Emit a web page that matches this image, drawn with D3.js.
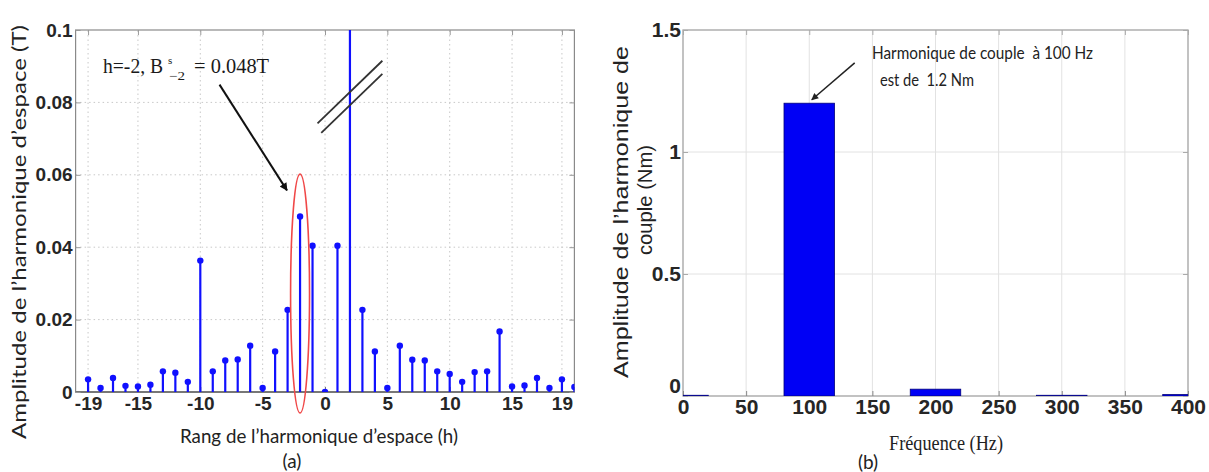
<!DOCTYPE html>
<html><head><meta charset="utf-8">
<script src="https://cdn.jsdelivr.net/npm/d3@7"></script>
<style>body{margin:0;background:#fff}svg{display:block}</style>
</head><body><svg id="c" width="1209" height="472"></svg>
<script>
// ---- Data: panel (a) space harmonics ----
const harmonicOrders = [-19,-18,-17,-16,-15,-14,-13,-12,-11,-10,-9,-8,-7,-6,-5,-4,-3,-2,-1,0,1,2,3,4,5,6,7,8,9,10,11,12,13,14,15,16,17,18,19,20];
const harmonicAmplitudes = [0.0035,0.0011,0.0039,0.0017,0.0015,0.0020,0.0057,0.0053,0.0028,0.0363,0.0057,0.0087,0.0090,0.0128,0.0011,0.0112,0.0227,0.0485,0.0404,0.0,0.0404,0.85,0.0227,0.0112,0.0011,0.0128,0.0089,0.0087,0.0057,0.0050,0.0028,0.0055,0.0057,0.0167,0.0015,0.0018,0.0039,0.0011,0.0035,0.0014];
const xTicksA = [-19,-15,-10,-5,0,5,10,15,19];
const yTicksA = [0,0.02,0.04,0.06,0.08,0.1];
const yTickLabelsA = ["0","0.02","0.04","0.06","0.08","0.1"];
// ---- Data: panel (b) torque harmonics ----
const frequencies = [0,100,200,300,400];
const torqueAmplitudes = [0.003,1.2,0.028,0.003,0.006];
const xTicksB = [0,50,100,150,200,250,300,350,400];
const yTicksB = [0,0.5,1,1.5];
const yTickLabelsB = ["0","0.5","1","1.5"];

const svg = d3.select("#c");
const blue = "#1010ff";
const tickFont = "Liberation Sans Narrow, Arial Narrow, sans-serif";
const defs = svg.append("defs");
defs.append("marker").attr("id","ah").attr("viewBox","0 0 10 10").attr("refX",9).attr("refY",5)
  .attr("markerWidth",10).attr("markerHeight",8).attr("orient","auto").attr("markerUnits","userSpaceOnUse")
  .append("path").attr("d","M0,0 L10,5 L0,10 Z").attr("fill","#111");
defs.append("marker").attr("id","ah2").attr("viewBox","0 0 10 10").attr("refX",9).attr("refY",5)
  .attr("markerWidth",9).attr("markerHeight",7).attr("orient","auto").attr("markerUnits","userSpaceOnUse")
  .append("path").attr("d","M0,0 L10,5 L0,10 Z").attr("fill","#222");

// ================= Panel (a) =================
const xA = d3.scaleLinear().domain([-20,20]).range([75.6,574.4]);
const yA = d3.scaleLinear().domain([0,0.1]).range([392,30]);
defs.append("clipPath").attr("id","clipA").append("rect")
  .attr("x",xA(-20)).attr("y",yA(0.1)).attr("width",xA(20)-xA(-20)).attr("height",yA(0)-yA(0.1));
const gA = svg.append("g");
gA.append("g").selectAll("line").data(xTicksA).join("line")
  .attr("x1",d=>xA(d)).attr("x2",d=>xA(d)).attr("y1",yA(0)).attr("y2",yA(0.1))
  .attr("stroke","#c8c8c8").attr("stroke-dasharray","1.5,3");
gA.append("g").selectAll("line").data(yTicksA.slice(1,-1)).join("line")
  .attr("x1",xA(-20)).attr("x2",xA(20)).attr("y1",d=>yA(d)).attr("y2",d=>yA(d))
  .attr("stroke","#c8c8c8").attr("stroke-dasharray","1.5,3");
gA.append("rect").attr("x",xA(-20)).attr("y",yA(0.1)).attr("width",xA(20)-xA(-20)).attr("height",yA(0)-yA(0.1))
  .attr("fill","none").attr("stroke","#8a8a8a").attr("stroke-width",1.2);
gA.append("line").attr("x1",xA(-20)).attr("x2",xA(20)).attr("y1",yA(0)).attr("y2",yA(0)).attr("stroke","#777").attr("stroke-width",1.8);
const axBA = d3.axisBottom(xA).tickValues(xTicksA).tickSize(-5).tickFormat(d=>d<0?"-"+Math.abs(d):d);
const gxA = gA.append("g").attr("transform",`translate(0,${yA(0)})`).call(axBA);
gxA.select(".domain").remove();
gxA.selectAll(".tick line").attr("stroke","#777");
gxA.selectAll("text").attr("font-family",tickFont).attr("font-weight","bold").attr("font-size",19).attr("fill","#262626").attr("dy","0.8em").attr("y",3);
gA.append("g").attr("transform",`translate(0,${yA(0.1)})`).call(d3.axisTop(xA).tickValues(xTicksA).tickSize(-5).tickFormat(""))
  .call(g=>g.select(".domain").remove()).selectAll("line").attr("stroke","#999");
const gyA = gA.append("g").attr("transform",`translate(${xA(-20)},0)`).call(d3.axisLeft(yA).tickValues(yTicksA).tickSize(-5).tickFormat((d,i)=>yTickLabelsA[i]));
gyA.select(".domain").remove();
gyA.selectAll(".tick line").attr("stroke","#999");
gyA.selectAll("text").attr("font-family",tickFont).attr("font-weight","bold").attr("font-size",19).attr("fill","#262626").attr("x",-3);
gA.append("g").attr("transform",`translate(${xA(20)},0)`).call(d3.axisRight(yA).tickValues(yTicksA).tickSize(-5).tickFormat(""))
  .call(g=>g.select(".domain").remove()).selectAll("line").attr("stroke","#999");
// stems
const stems = gA.append("g").attr("clip-path","url(#clipA)");
const pts = harmonicOrders.map((h,i)=>({h,v:harmonicAmplitudes[i]}));
stems.selectAll("line").data(pts).join("line")
  .attr("x1",d=>xA(d.h)).attr("x2",d=>xA(d.h)).attr("y1",yA(0)).attr("y2",d=>yA(d.v))
  .attr("stroke",blue).attr("stroke-width",2.2);
stems.selectAll("circle").data(pts).join("circle")
  .attr("cx",d=>xA(d.h)).attr("cy",d=>yA(d.v)).attr("r",3.2).attr("fill",blue);
// ellipse around h=-2
gA.append("ellipse").attr("cx",xA(-2)).attr("cy",yA(0.0272)).attr("rx",xA(-2)-xA(-2.76)).attr("ry",yA(0)-yA(0.033))
  .attr("fill","none").attr("stroke","#f04848").attr("stroke-width",1.6);
// annotation text
const ann = gA.append("g").attr("font-family","Liberation Serif, Times New Roman, serif").attr("fill","#1a1a1a");
ann.append("text").attr("x",xA(-17.8)).attr("y",yA(0.0881)).attr("font-size",20).attr("textLength",60).attr("lengthAdjust","spacingAndGlyphs").text("h=-2, B");
ann.append("text").attr("x",xA(-12.6)).attr("y",yA(0.0905)).attr("font-size",11).text("s");
ann.append("text").attr("x",xA(-12.5)).attr("y",yA(0.0862)).attr("font-size",12).attr("textLength",16).attr("lengthAdjust","spacingAndGlyphs").text("−2");
ann.append("text").attr("x",xA(-10.5)).attr("y",yA(0.0881)).attr("font-size",22).attr("textLength",75).attr("lengthAdjust","spacingAndGlyphs").text("= 0.048T");
gA.append("line").attr("x1",xA(-8.46)).attr("y1",yA(0.0849)).attr("x2",xA(-3.05)).attr("y2",yA(0.0557))
  .attr("stroke","#111").attr("stroke-width",2).attr("marker-end","url(#ah)");
// break marks
gA.append("line").attr("x1",xA(-0.6)).attr("y1",yA(0.0742)).attr("x2",xA(4.6)).attr("y2",yA(0.0915)).attr("stroke","#333").attr("stroke-width",1.8);
gA.append("line").attr("x1",xA(-0.3)).attr("y1",yA(0.0716)).attr("x2",xA(4.6)).attr("y2",yA(0.0879)).attr("stroke","#333").attr("stroke-width",1.8);
// titles
svg.append("text").attr("transform","translate(26,232) rotate(-90)").attr("text-anchor","middle")
  .attr("font-family","Lato, Open Sans, sans-serif").attr("font-size",19).attr("fill","#222")
  .attr("textLength",414).attr("lengthAdjust","spacingAndGlyphs").text("Amplitude de l’harmonique d’espace (T)");
svg.append("text").attr("x",319).attr("y",443).attr("text-anchor","middle")
  .attr("font-family","Lato, Open Sans, sans-serif").attr("font-size",19).attr("fill","#222")
  .attr("textLength",278).attr("lengthAdjust","spacingAndGlyphs").text("Rang de l’harmonique d’espace (h)");
svg.append("text").attr("x",292).attr("y",468).attr("text-anchor","middle")
  .attr("font-family","Lato, Open Sans, sans-serif").attr("font-size",19).attr("fill","#222").text("(a)");

// ================= Panel (b) =================
const xB = d3.scaleLinear().domain([0,400]).range([683,1188]);
const yB = d3.scaleLinear().domain([0,1.5]).range([396,30]);
defs.append("clipPath").attr("id","clipB").append("rect")
  .attr("x",xB(0)).attr("y",yB(1.5)).attr("width",xB(400)-xB(0)).attr("height",yB(0)-yB(1.5));
const gB = svg.append("g");
gB.append("g").selectAll("line").data(xTicksB.slice(1,-1)).join("line")
  .attr("x1",d=>xB(d)).attr("x2",d=>xB(d)).attr("y1",yB(0)).attr("y2",yB(1.5)).attr("stroke","#e2e2e2");
gB.append("g").selectAll("line").data(yTicksB.slice(1,-1)).join("line")
  .attr("x1",xB(0)).attr("x2",xB(400)).attr("y1",d=>yB(d)).attr("y2",d=>yB(d)).attr("stroke","#e2e2e2");
gB.append("rect").attr("x",xB(0)).attr("y",yB(1.5)).attr("width",xB(400)-xB(0)).attr("height",yB(0)-yB(1.5))
  .attr("fill","none").attr("stroke","#9a9a9a").attr("stroke-width",1.2);
const gxB = gB.append("g").attr("transform",`translate(0,${yB(0)})`).call(d3.axisBottom(xB).tickValues(xTicksB).tickSize(-5));
gxB.select(".domain").remove();
gxB.selectAll(".tick line").attr("stroke","#888");
gxB.selectAll("text").attr("font-family",tickFont).attr("font-weight","bold").attr("font-size",21).attr("fill","#262626").attr("y",1).attr("dy","0.8em");
gB.append("g").attr("transform",`translate(0,${yB(1.5)})`).call(d3.axisTop(xB).tickValues(xTicksB).tickSize(-5).tickFormat(""))
  .call(g=>g.select(".domain").remove()).selectAll("line").attr("stroke","#aaa");
const gyB = gB.append("g").attr("transform",`translate(${xB(0)},0)`).call(d3.axisLeft(yB).tickValues(yTicksB).tickSize(-5).tickFormat((d,i)=>yTickLabelsB[i]));
gyB.select(".domain").remove();
gyB.selectAll(".tick line").attr("stroke","#aaa");
gyB.selectAll("text").attr("font-family",tickFont).attr("font-weight","bold").attr("font-size",21).attr("fill","#262626").attr("x",-2);
gyB.selectAll(".tick").filter(d=>d===0).select("text").attr("dy","-0.15em");
gB.append("g").attr("transform",`translate(${xB(400)},0)`).call(d3.axisRight(yB).tickValues(yTicksB).tickSize(-5).tickFormat(""))
  .call(g=>g.select(".domain").remove()).selectAll("line").attr("stroke","#aaa");
// bars
const barHalf = 20;
const bars = frequencies.map((f,i)=>({f,v:torqueAmplitudes[i]}));
gB.append("g").attr("clip-path","url(#clipB)").selectAll("rect").data(bars).join("rect")
  .attr("x",d=>xB(d.f-barHalf)).attr("width",d=>xB(d.f+barHalf)-xB(d.f-barHalf))
  .attr("y",d=>yB(d.v)).attr("height",d=>Math.max(1,yB(0)-yB(d.v)))
  .attr("fill","#0000f5").attr("stroke","#00007a").attr("stroke-width",0.8);
// annotation
const annB = gB.append("g").attr("font-family","Lato, Open Sans, sans-serif").attr("font-size",17).attr("fill","#222");
annB.append("text").attr("x",872).attr("y",yB(1.38)).attr("textLength",221).attr("lengthAdjust","spacingAndGlyphs").attr("xml:space","preserve").text("Harmonique de couple  à 100 Hz");
annB.append("text").attr("x",880).attr("y",yB(1.27)).attr("textLength",94).attr("lengthAdjust","spacingAndGlyphs").attr("xml:space","preserve").text("est de  1.2 Nm");
gB.append("line").attr("x1",xB(136)).attr("y1",yB(1.365)).attr("x2",xB(102)).attr("y2",yB(1.214))
  .attr("stroke","#222").attr("stroke-width",1.5).attr("marker-end","url(#ah2)");
// titles
svg.append("text").attr("transform","translate(628,212) rotate(-90)").attr("text-anchor","middle")
  .attr("font-family","Liberation Sans, Arial, sans-serif").attr("font-size",20).attr("fill","#222")
  .attr("textLength",332).attr("lengthAdjust","spacingAndGlyphs").text("Amplitude de l’harmonique de");
svg.append("text").attr("transform","translate(652,200) rotate(-90)").attr("text-anchor","middle")
  .attr("font-family","Liberation Sans, Arial, sans-serif").attr("font-size",20).attr("fill","#222")
  .attr("textLength",110).attr("lengthAdjust","spacingAndGlyphs").text("couple (Nm)");
svg.append("text").attr("x",946).attr("y",450).attr("text-anchor","middle")
  .attr("font-family","Liberation Serif, Times New Roman, serif").attr("font-size",22).attr("fill","#222")
  .attr("textLength",114).attr("lengthAdjust","spacingAndGlyphs").text("Fréquence (Hz)");
svg.append("text").attr("x",868).attr("y",469).attr("text-anchor","middle")
  .attr("font-family","Lato, Open Sans, sans-serif").attr("font-size",19).attr("fill","#222").text("(b)");
</script></body></html>
